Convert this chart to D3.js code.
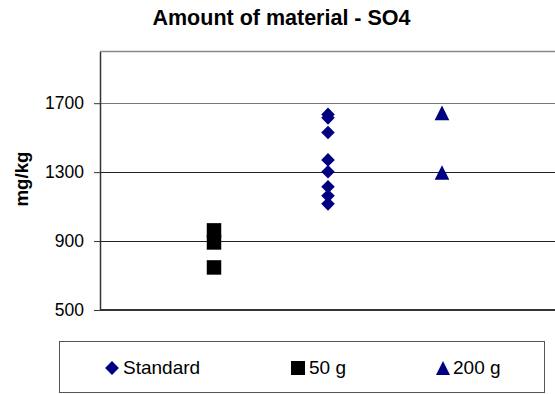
<!DOCTYPE html>
<html>
<head>
<meta charset="utf-8">
<script src="https://cdn.jsdelivr.net/npm/d3@7"></script>
<style>
  body { margin: 0; background: #fff; }
  svg { display: block; font-family: "Liberation Sans", Arial, sans-serif; }
</style>
</head>
<body>
<div id="chart"></div>
<script>
// values (mg/kg)
const standardValues = [1635, 1615, 1530, 1371, 1302, 1215, 1163, 1116]
const g50Values = [962, 892, 747]
const g200Values = [1644, 1298]
const yTicks = [500, 900, 1300, 1700]
const seriesNames = ["Standard", "50 g", "200 g"]
const seriesPos = [2, 1, 3]

const size = [555, 394]
const margin = {top: 51.5, right: -1, bottom: 84, left: 100}

const svg = d3.select("#chart").append("svg")
  .attr("width", size[0])
  .attr("height", size[1])

const x = d3.scaleLinear()
  .domain([0, 4])
  .range([margin.left, size[0] - margin.right])

const y = d3.scaleLinear()
  .domain([500, 2000])
  .range([size[1] - margin.bottom, margin.top])

// taller-than-wide triangle like the spreadsheet marker
const tallTriangle = {
  draw(context, s) {
    const w = Math.sqrt(s), h = w
    context.moveTo(0, -h / 2)
    context.lineTo(w / 2, h / 2)
    context.lineTo(-w / 2, h / 2)
    context.closePath()
  }
}

// top border
svg.append("line")
  .attr("x1", margin.left).attr("x2", size[0])
  .attr("y1", y(2000)).attr("y2", y(2000))
  .attr("stroke", "#8a8a8a").attr("stroke-width", 1.5)

// gridlines
svg.append("g")
  .selectAll("line")
  .data(yTicks.filter(d => d > 500))
  .join("line")
    .attr("x1", margin.left).attr("x2", size[0])
    .attr("y1", d => Math.round(y(d)) + 0.5).attr("y2", d => Math.round(y(d)) + 0.5)
    .attr("stroke", d => d == 1700 ? "#777" : "#222")

// y axis
const yAxis = svg.append("g")
  .attr("transform", `translate(${margin.left},0)`)
  .call(d3.axisLeft(y).tickValues(yTicks).tickFormat(d3.format("d"))
    .tickSize(6).tickPadding(10).tickSizeOuter(0))
yAxis.select(".domain").attr("stroke", "#333").attr("stroke-width", 1.5)
yAxis.selectAll(".tick line").attr("stroke", "#333")
yAxis.selectAll("text").attr("font-size", 17.5).attr("fill", "#000")
  .attr("font-family", "Liberation Sans, Arial, sans-serif")

// x axis (bottom line)
svg.append("line")
  .attr("x1", margin.left).attr("x2", size[0])
  .attr("y1", y(500)).attr("y2", y(500))
  .attr("stroke", "#333").attr("stroke-width", 2)

// title
svg.append("text")
  .attr("x", 281.5).attr("y", 25)
  .attr("text-anchor", "middle")
  .attr("font-size", 21.5).attr("font-weight", "bold")
  .text("Amount of material - SO4")

// y label
svg.append("text")
  .attr("transform", `translate(28,179) rotate(-90)`)
  .attr("text-anchor", "middle")
  .attr("font-size", 18.7).attr("font-weight", "bold")
  .text("mg/kg")

const navy = "#000080"
const diamond = d3.symbol().type(d3.symbolSquare).size(92)
const square = d3.symbol().type(d3.symbolSquare).size(210)
const triangle = d3.symbol().type(tallTriangle).size(215)

svg.append("g")
  .selectAll("path")
  .data(standardValues)
  .join("path")
    .attr("d", diamond)
    .attr("fill", navy)
    .attr("transform", d => `translate(${x(seriesPos[0])},${y(d)}) rotate(45)`)

svg.append("g")
  .selectAll("path")
  .data(g50Values)
  .join("path")
    .attr("d", square)
    .attr("fill", "#000")
    .attr("transform", d => `translate(${x(seriesPos[1])},${y(d)})`)

svg.append("g")
  .selectAll("path")
  .data(g200Values)
  .join("path")
    .attr("d", triangle)
    .attr("fill", navy)
    .attr("transform", d => `translate(${x(seriesPos[2])},${y(d)})`)

// legend
const legend = svg.append("g")
legend.append("rect")
  .attr("x", 59.5).attr("y", 341.5)
  .attr("width", 485).attr("height", 51)
  .attr("fill", "none").attr("stroke", "#555").attr("stroke-width", 1)

const legendItems = [
  {name: seriesNames[0], sym: d3.symbol().type(d3.symbolSquare).size(95), fill: navy, rot: 45, cx: 112, tx: 123},
  {name: seriesNames[1], sym: d3.symbol().type(d3.symbolSquare).size(196), fill: "#000", rot: 0, cx: 298, tx: 309},
  {name: seriesNames[2], sym: d3.symbol().type(tallTriangle).size(196), fill: navy, rot: 0, cx: 443, tx: 453},
]
const li = legend.selectAll("g.item")
  .data(legendItems)
  .join("g").attr("class", "item")
li.append("path")
  .attr("d", d => d.sym())
  .attr("fill", d => d.fill)
  .attr("transform", d => `translate(${d.cx},${368}) rotate(${d.rot})`)
li.append("text")
  .attr("x", d => d.tx).attr("y", 374)
  .attr("font-size", 19)
  .text(d => d.name)
</script>
</body>
</html>
